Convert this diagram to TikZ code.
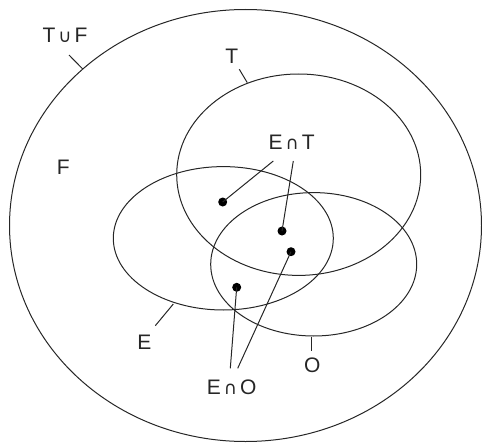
\documentclass[tikz,border=0pt]{standalone}
\usepackage{fontspec}
\setmainfont{Liberation Sans}
\newfontfamily\symfont{DejaVu Sans}
\newcommand{\symcap}{\hspace{3pt}{\symfont\fontsize{18}{18}\selectfont ∩}\hspace{3pt}}
\newcommand{\symcup}{\hspace{3pt}{\symfont\fontsize{18}{18}\selectfont ∪}\hspace{3pt}}
\begin{document}
\begin{tikzpicture}[x=1pt,y=-1pt,
  ring/.style={draw=black!85,line width=1pt},
  lab/.style={font=\fontsize{21}{23}\selectfont,text=black!85,inner sep=0pt},
  dot/.style={circle,fill=black,inner sep=0pt,minimum size=9pt},
  tick/.style={draw=black!85,line width=1pt}]
\useasboundingbox (0,0) rectangle (482,444);
% ellipses
\draw[ring] (245.5,225.5) ellipse [x radius=236, y radius=216];
\draw[ring] (298.7,174.7) ellipse [x radius=122, y radius=100.7];
\draw[ring] (223.3,238.3) ellipse [x radius=110, y radius=71.7];
\draw[ring] (313.7,264.3) ellipse [x radius=103, y radius=71.7];
% labels
\node[lab] (TF) at (65,35) {T\symcup F};
\node[lab] (T) at (231.7,56) {T};
\node[lab] (F) at (63.3,167.7) {F};
\node[lab] (ET) at (291.7,142.7) {E\symcap T};
\node[lab] (E) at (144.3,342.3) {E};
\node[lab] (O) at (312.3,365.7) {O};
\node[lab] (EO) at (231.7,387.3) {E\symcap O};
% dots
\node[dot] (d1) at (222.7,202) {};
\node[dot] (d2) at (282,231) {};
\node[dot] (d3) at (291,251.7) {};
\node[dot] (d4) at (236.7,287.3) {};
% tick coordinates
\coordinate (tfa) at (69,55);   \coordinate (tfb) at (82.7,69);
\coordinate (ta) at (239.3,69.3); \coordinate (tb) at (247.3,82.7);
\coordinate (ea) at (155.3,325.7); \coordinate (eb) at (173.3,304);
\coordinate (oa) at (311.7,336.7); \coordinate (ob) at (311.7,351);
\coordinate (et1) at (273.3,161); \coordinate (et2) at (293.3,161);
\coordinate (eo1) at (230.3,368.3); \coordinate (eo2) at (237.7,368.3);
\draw[tick] (tfa) -- (tfb);
\draw[tick] (ta) -- (tb);
\draw[tick] (ea) -- (eb);
\draw[tick] (oa) -- (ob);
\draw[tick] (et1) -- (d1.center);
\draw[tick] (et2) -- (d2.center);
\draw[tick] (eo1) -- (d4.center);
\draw[tick] (eo2) -- (d3.center);
\end{tikzpicture}
\end{document}
